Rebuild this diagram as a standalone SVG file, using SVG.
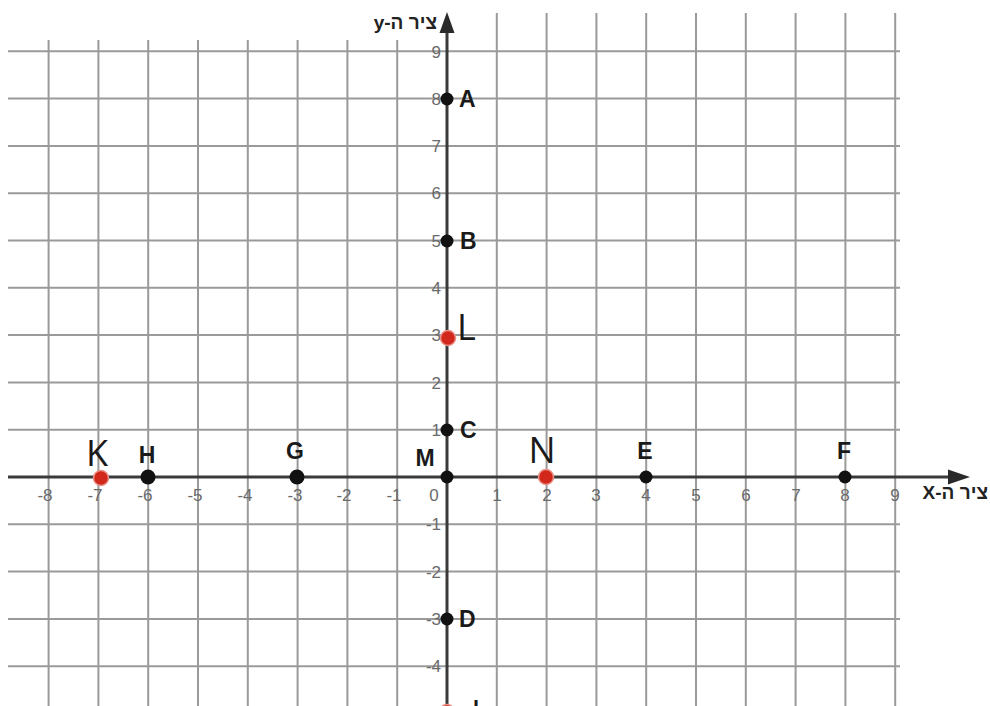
<svg xmlns="http://www.w3.org/2000/svg" width="990" height="706" viewBox="0 0 990 706">
<style>
.grid{stroke:#9a9a9a;stroke-width:2;fill:none}
.axis{stroke:#3a3a3a;stroke-width:3;fill:none}
.tick{font-family:"Liberation Sans",Arial,sans-serif;font-size:17px;fill:#6a6a6a}
.tx{text-anchor:middle}
.ty{text-anchor:end}
.lbl{font-family:"Liberation Sans",Arial,sans-serif;font-size:23px;font-weight:bold;fill:#1a1a1a}
.big{font-family:"Open Sans","Liberation Sans",sans-serif;font-size:36px;fill:#1a1a1a}
.axlbl{font-family:"Liberation Sans",Arial,sans-serif;font-size:19px;font-weight:bold;fill:#222;direction:rtl;unicode-bidi:embed}
.pt{fill:#111}
.rpt{fill:#d2281b;stroke:#e99088;stroke-width:1.5}
</style>
<rect width="990" height="706" fill="#fff"/>
<g id="grid">
<path class="grid" d="M48.6 40V706M98.4 40V706M148.2 40V706M198 40V706M247.8 40V706M297.6 40V706M347.4 40V706M397.2 40V706M496.8 13V706M546.6 13V706M596.4 13V706M646.2 13V706M696 13V706M745.8 13V706M795.6 13V706M845.4 13V706M895.2 13V706"/>
<path class="grid" d="M8 51.3H900M8 98.6H900M8 145.9H900M8 193.2H900M8 240.5H900M8 287.8H900M8 335.1H900M8 382.4H900M8 429.7H900M8 524.3H900M8 571.6H900M8 618.9H900M8 666.2H900"/>
</g>
<g id="axes">
<path class="axis" d="M8 477H952"/>
<path d="M970 477L948 469.5L948 484.5Z" fill="#2a2a2a"/>
<path class="axis" d="M447 706V30"/>
<path d="M447 12L439.5 33L454.5 33Z" fill="#2a2a2a"/>
<text class="axlbl" x="437" y="29" text-anchor="start">ציר ה-y</text>
<text class="axlbl" x="988" y="499" text-anchor="start">ציר ה-X</text>
</g>
<g id="xticks" class="tick tx">
<text x="45" y="501">-8</text><text x="95" y="501">-7</text><text x="145" y="501">-6</text><text x="195" y="501">-5</text><text x="245" y="501">-4</text><text x="295" y="501">-3</text><text x="344" y="501">-2</text><text x="394" y="501">-1</text><text x="434" y="501">0</text><text x="497" y="501">1</text><text x="547" y="501">2</text><text x="596" y="501">3</text><text x="646" y="501">4</text><text x="696" y="501">5</text><text x="746" y="501">6</text><text x="796" y="501">7</text><text x="845" y="501">8</text><text x="895" y="501">9</text>
</g>
<g id="yticks" class="tick ty">
<text x="441" y="58">9</text><text x="441" y="105">8</text><text x="441" y="152">7</text><text x="441" y="199">6</text><text x="441" y="247">5</text><text x="441" y="294">4</text><text x="441" y="341">3</text><text x="441" y="389">2</text><text x="441" y="436">1</text><text x="441" y="530">-1</text><text x="441" y="578">-2</text><text x="441" y="625">-3</text><text x="441" y="672">-4</text><text x="441" y="720">-5</text>
</g>
<g id="A"><circle class="pt" cx="447" cy="99" r="6.5"/><text class="lbl" x="459" y="107">A</text></g>
<g id="B"><circle class="pt" cx="447" cy="241" r="6.5"/><text class="lbl" x="460" y="249">B</text></g>
<g id="C"><circle class="pt" cx="447" cy="430" r="6.5"/><text class="lbl" x="460" y="438">C</text></g>
<g id="D"><circle class="pt" cx="447" cy="619" r="6.5"/><text class="lbl" x="459" y="627">D</text></g>
<g id="M"><circle class="pt" cx="447" cy="477" r="6.5"/><text class="lbl" x="425" y="466" text-anchor="middle">M</text></g>
<g id="E"><circle class="pt" cx="646" cy="477" r="6.5"/><text class="lbl" x="645" y="459" text-anchor="middle">E</text></g>
<g id="F"><circle class="pt" cx="845" cy="477" r="6.5"/><text class="lbl" x="844" y="459" text-anchor="middle">F</text></g>
<g id="G"><circle class="pt" cx="297" cy="477" r="7.5"/><text class="lbl" x="295" y="459" text-anchor="middle">G</text></g>
<g id="H"><circle class="pt" cx="148" cy="477" r="7.5"/><text class="lbl" x="147" y="463" text-anchor="middle">H</text></g>
<g id="K"><circle class="rpt" cx="101" cy="478" r="7.5"/><text class="big" x="97" y="466" text-anchor="middle">K</text></g>
<g id="N"><circle class="rpt" cx="546" cy="477" r="7.5"/><text class="big" x="542" y="463" text-anchor="middle">N</text></g>
<g id="L"><circle class="rpt" cx="448" cy="338" r="7.5"/><text class="big" x="457" y="340">L</text></g>
<g id="L2"><circle class="rpt" cx="447" cy="712" r="7.5"/><text class="big" x="471" y="726">L</text></g>
</svg>
